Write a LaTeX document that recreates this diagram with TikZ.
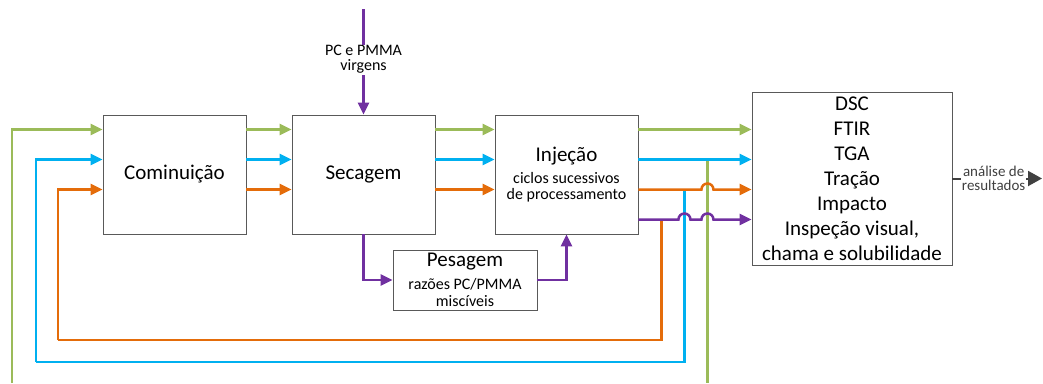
\documentclass[tikz,border=0pt]{standalone}
\usepackage{fontspec}
\setmainfont{Carlito}
\usepackage{tikz}
\usetikzlibrary{arrows.meta, positioning, calc}
\definecolor{ink}{HTML}{595959}
\definecolor{grn}{HTML}{9BBB59}
\definecolor{blu}{HTML}{00B0F0}
\definecolor{org}{HTML}{E46C0A}
\definecolor{prp}{HTML}{7030A0}
\definecolor{outc}{HTML}{404040}
\newcommand{\subsize}{\fontsize{16}{16}\selectfont}

\begin{document}
\begin{tikzpicture}[
  x=1pt, y=-1pt,
  box/.style={rectangle, draw=ink, line width=0.9pt, inner sep=0pt, minimum width=143pt, minimum height=119pt, align=center, font=\fontsize{21}{25}\selectfont},
  sub/.style={font=\subsize},
  flow/.style={line width=2.5pt, -{Triangle[length=12pt, width=11pt]}},
  feed/.style={line width=2.5pt},
  outarrow/.style={line width=2pt, outc, -{Triangle[length=14pt, width=15pt]}}
]
  \useasboundingbox (0,0) rectangle (1043,383);

  % Main row
  \node[box] (com) at (174.5,174.5) {Cominuição};
  \node[box] (sec) at (363.5,174.5) {Secagem};
  \node[box] (inj) at (566.5,174.5) {Injeção\\[-3pt]\subsize ciclos sucessivos\\[-9pt]\subsize de processamento};
  \node[box, minimum width=144pt, minimum height=60pt] (pes) at (465,280) {Pesagem\\[-2pt]\subsize razões PC/PMMA\\[-8pt]\subsize miscíveis};
  \node[box, minimum width=200pt, minimum height=173pt] (res) at (852,178.5) {DSC\\FTIR\\TGA\\Tração\\Impacto\\Inspeção visual,\\chama e solubilidade};

  % Outputs of Injeção and feedback taps
  \coordinate (gout) at ([yshift=45pt]inj.east);
  \coordinate (bout) at ([yshift=15pt]inj.east);
  \coordinate (oout) at ([yshift=-15pt]inj.east);
  \coordinate (pout) at ([yshift=-45pt]inj.east);
  \coordinate (gtap) at ([xshift=69pt]bout);
  \coordinate (btap) at ([xshift=46pt]oout);
  \coordinate (otap) at ([xshift=23pt]pout);
  \coordinate (gend) at (gtap |- 0,383);
  \coordinate (gstart) at (12,383);
  \coordinate (bcorner) at (36,362);
  \coordinate (ocorner) at (58,340);
  \coordinate (pcin) at (363.5,9);
  \coordinate (fim) at (1042,178.5);

  % Virgin material
  \draw[flow, prp] (pcin) -- (sec.north) node[pos=0.48, fill=white, inner sep=1pt, align=center, sub, text=black] {PC e PMMA\\[-1pt]virgens};

  % Green line
  \draw[flow, grn] (gstart) |- ([yshift=45pt]com.west);
  \draw[flow, grn] ([yshift=45pt]com.east) -- ([yshift=45pt]sec.west);
  \draw[flow, grn] ([yshift=45pt]sec.east) -- ([yshift=45pt]inj.west);
  \draw[flow, grn] (gout) -- (gout -| res.west);
  \draw[feed, grn] (gtap) -- (gend);

  % Blue line
  \draw[flow, blu] (bcorner) |- ([yshift=15pt]com.west);
  \draw[feed, blu] (btap) |- (bcorner);
  \draw[flow, blu] ([yshift=15pt]com.east) -- ([yshift=15pt]sec.west);
  \draw[flow, blu] ([yshift=15pt]sec.east) -- ([yshift=15pt]inj.west);
  \draw[flow, blu] (bout) -- (bout -| res.west);

  % Orange line
  \draw[flow, org] (ocorner) |- ([yshift=-15pt]com.west);
  \draw[feed, org] (otap) |- (ocorner);
  \draw[flow, org] ([yshift=-15pt]com.east) -- ([yshift=-15pt]sec.west);
  \draw[flow, org] ([yshift=-15pt]sec.east) -- ([yshift=-15pt]inj.west);
  \draw[flow, org] (oout) -- ([xshift=-6pt]oout -| gtap) arc[start angle=180, end angle=0, radius=6pt] -- (oout -| res.west);

  % Purple line
  \draw[flow, prp] (sec.south) |- (pes.west);
  \draw[flow, prp] (pes.east) -| (inj.south);
  \draw[flow, prp] (pout) -- ([xshift=-6pt]pout -| btap) arc[start angle=180, end angle=0, radius=6pt]
    -- ([xshift=-6pt]pout -| gtap) arc[start angle=180, end angle=0, radius=6pt] -- (pout -| res.west);

  % Results
  \draw[outarrow] (res.east) -- (fim) node[pos=0.46, fill=white, inner sep=0.5pt, align=center, font=\fontsize{15}{14}\selectfont, text=outc] {análise de\\resultados};

\end{tikzpicture}
\end{document}
